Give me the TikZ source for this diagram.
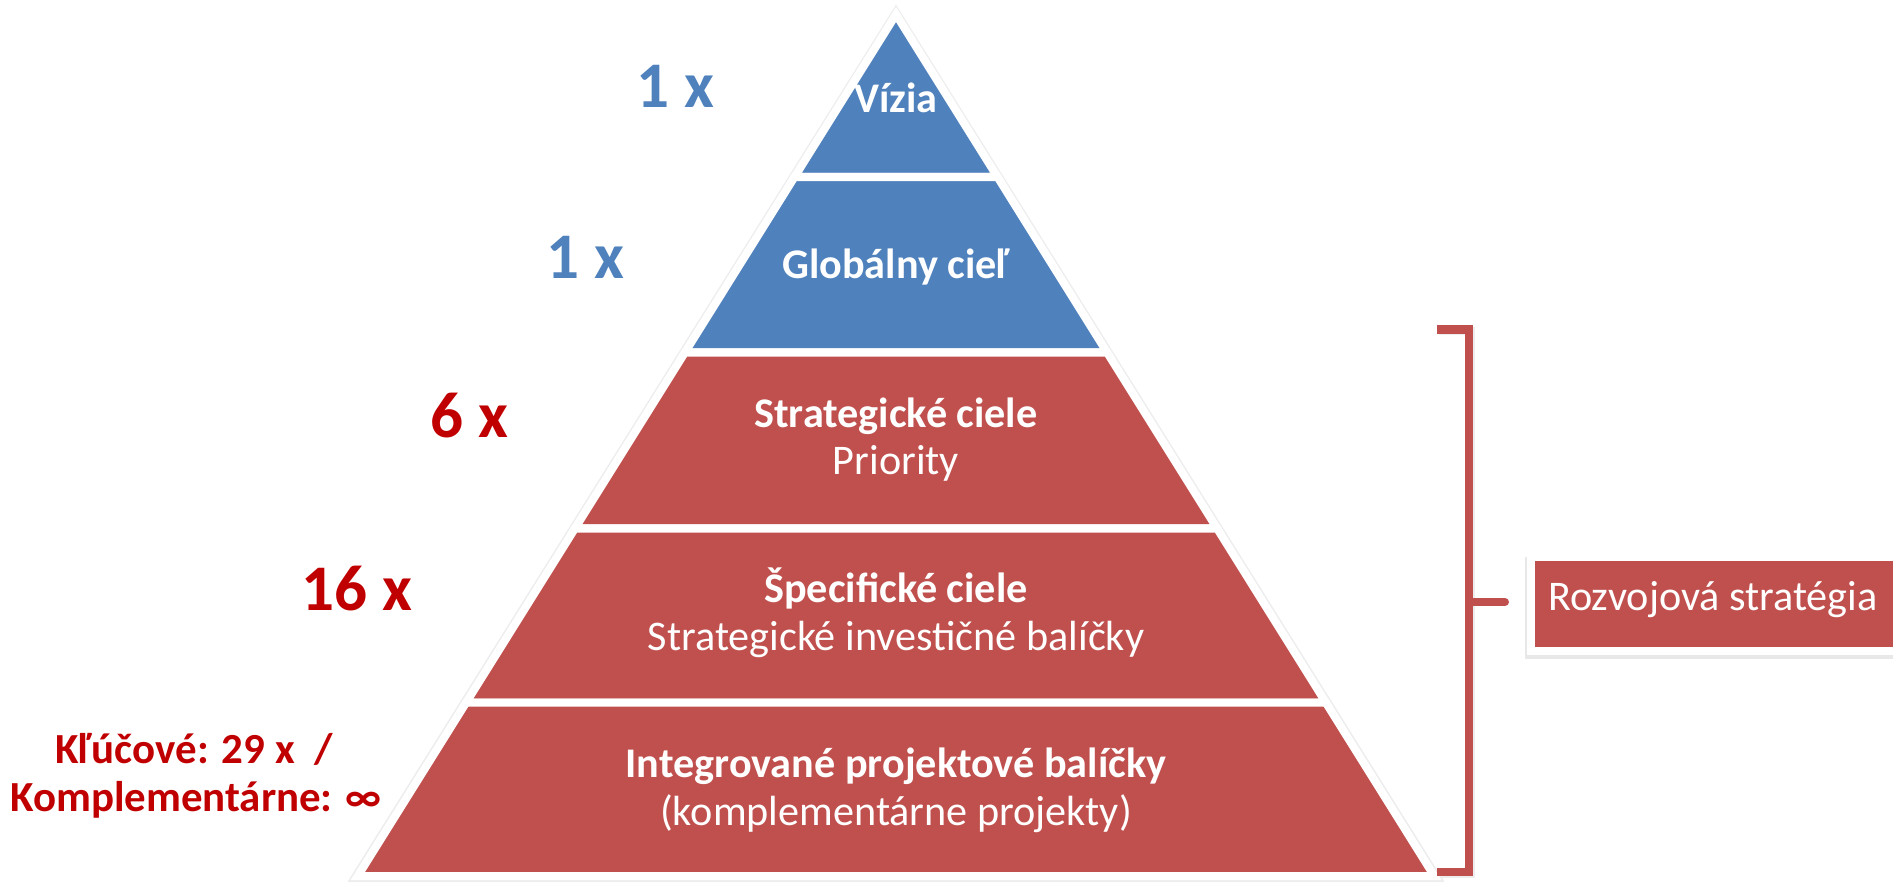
\documentclass[tikz,border=0pt]{standalone}
\usepackage{fontspec}
\setmainfont{Carlito}
\usetikzlibrary{calc}
\definecolor{tierblue}{HTML}{4F81BD}
\definecolor{tierred}{HTML}{C0504D}
\definecolor{cntred}{HTML}{C00000}
\begin{document}
\begin{tikzpicture}[x=0.01cm,y=-0.01cm,
  tier/.style={draw=white, line width=0.08cm, line join=miter},
  tshadow/.style={draw=black!7, line width=0.115cm, line join=miter},
  tbold/.style={anchor=base, inner sep=0, text=white, font=\fontsize{12}{13.4}\selectfont\bfseries},
  tnorm/.style={anchor=base, inner sep=0, text=white, font=\fontsize{12}{13.4}\selectfont},
  count/.style={anchor=base west, inner sep=0, font=\fontsize{18.5}{20}\selectfont\bfseries},
  side/.style={anchor=base, inner sep=0, text=cntred, font=\fontsize{12.2}{13.7}\selectfont\bfseries},
  bracket/.style={draw=tierred, line width=0.08cm},
  boxstyle/.style={fill=tierred, draw=white, line width=0.08cm, text=white,
    inner xsep=0.17cm, inner ysep=0, text height=0.53cm, text depth=0.41cm,
    text width=3.83cm, align=flush left, font=\fontsize{12}{13.4}\selectfont},
  ]
\useasboundingbox (0,0) rectangle (1893,882);
% shadows
\draw[tshadow] (896,15.5) -- (1434.7,877) -- (357.3,877) -- cycle;
\fill[black!9] (1525,557) rectangle (1900,659);
\draw[bracket, draw=black!7] (1438.5,331) -- (1470.5,331) -- (1470.5,873.5) -- (1438.5,873.5);
% tiers
\filldraw[tier, fill=tierblue] (896,14.5) -- (997.5,177) -- (794.5,177) -- cycle;
\filldraw[tier, fill=tierblue] (794.5,177) -- (997.5,177) -- (1107.1,352.5) -- (684.9,352.5) -- cycle;
\filldraw[tier, fill=tierred] (684.9,352.5) -- (1107.1,352.5) -- (1217.1,528.5) -- (574.9,528.5) -- cycle;
\filldraw[tier, fill=tierred] (574.9,528.5) -- (1217.1,528.5) -- (1325.8,702.5) -- (466.2,702.5) -- cycle;
\filldraw[tier, fill=tierred] (466.2,702.5) -- (1325.8,702.5) -- (1434.2,876) -- (357.8,876) -- cycle;
% tier texts
\node[tbold] (vizia) at (896,113) {Vízia};
\node[tbold] (glob) at (896,278) {Globálny cieľ};
\node[tbold] (strat) at (896,428) {Strategické ciele};
\node[tnorm] (prio) at (896,475) {Priority};
\node[tbold] (spec) at (896,602) {Špecifické ciele};
\node[tnorm] (sib) at (896,650) {Strategické investičné balíčky};
\node[tbold] (ipb) at (896,777) {Integrované projektové balíčky};
\node[tnorm] (kp) at (896,825) {(komplementárne projekty)};
% counts
\node[count, text=tierblue] (c1) at (636,108) {1 x};
\node[count, text=tierblue] (c2) at (546,278) {1 x};
\node[count, text=cntred] (c3) at (430,438) {6 x};
\node[count, text=cntred] (c4) at (301,610) {16 x};
\node[side] (kluc) at (194,763) {Kľúčové: 29 x\ \ /};
\node[side] (kompl) at (196,811) {Komplementárne: ∞};
% box and bracket
\node[boxstyle, anchor=west] (rozv) at (1527,604) {Rozvojová stratégia};
\coordinate (btop) at (1437,329.5);
\coordinate (bbot) at (1437,872);
\coordinate (bmid) at (1469,602);
\coordinate (btip) at ($(rozv.west)+(-22,0)$);
\draw[bracket] (btop) -- (1469,329.5) -- (1469,872) -- (bbot);
\draw[bracket, line cap=round] (bmid) -- (btip |- bmid);
\end{tikzpicture}
\end{document}
